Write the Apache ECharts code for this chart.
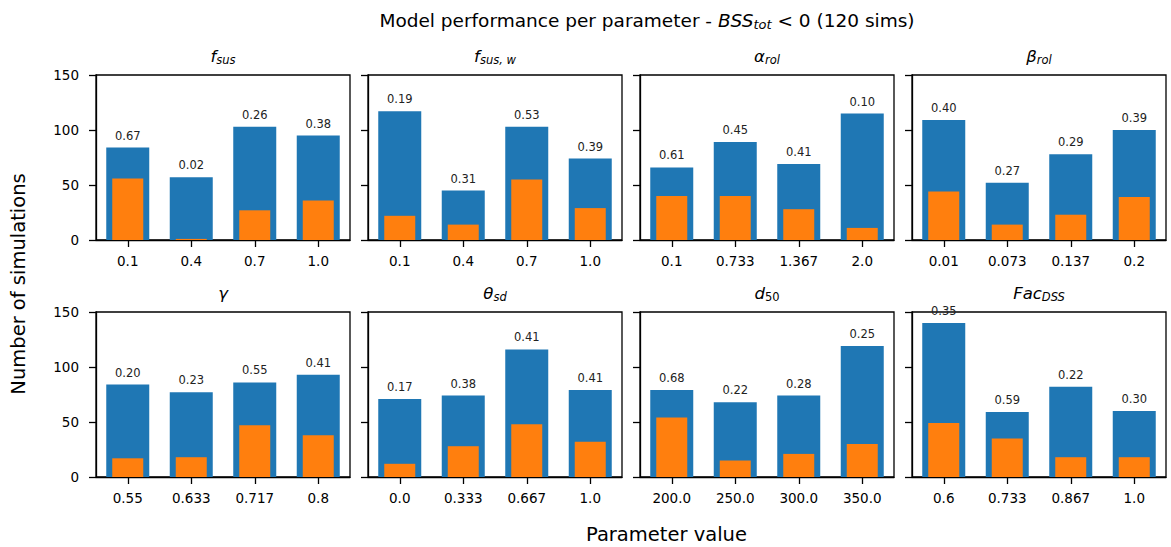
<!DOCTYPE html>
<html>
<head>
<meta charset="utf-8">
<script src="https://cdn.jsdelivr.net/npm/echarts@6/dist/echarts.min.js"></script>
<style>
html,body{margin:0;padding:0;background:#fff;}
#chart{width:1171px;height:547px;}
</style>
</head>
<body>
<div id="chart"></div>
<script>
// ---- data ----
const panelTitleMain = ['f', 'f', 'α', 'β', 'γ', 'θ', 'd', 'Fac'];
const panelTitleSub  = ['sus', 'sus, w', 'rol', 'rol', '', 'sd', '50', 'DSS'];
const tickLabels = [
  ['0.1', '0.4', '0.7', '1.0'],
  ['0.1', '0.4', '0.7', '1.0'],
  ['0.1', '0.733', '1.367', '2.0'],
  ['0.01', '0.073', '0.137', '0.2'],
  ['0.55', '0.633', '0.717', '0.8'],
  ['0.0', '0.333', '0.667', '1.0'],
  ['200.0', '250.0', '300.0', '350.0'],
  ['0.6', '0.733', '0.867', '1.0']
];
const totalSims = [
  [84, 57, 103, 95],
  [117, 45, 103, 74],
  [66, 89, 69, 115],
  [109, 52, 78, 100],
  [84, 77, 86, 93],
  [71, 74, 116, 79],
  [79, 68, 74, 119],
  [140, 59, 82, 60]
];
const negativeSims = [
  [56, 1, 27, 36],
  [22, 14, 55, 29],
  [40, 40, 28, 11],
  [44, 14, 23, 39],
  [17, 18, 47, 38],
  [12, 28, 48, 32],
  [54, 15, 21, 30],
  [49, 35, 18, 18]
];
const ratioLabels = [
  ['0.67', '0.02', '0.26', '0.38'],
  ['0.19', '0.31', '0.53', '0.39'],
  ['0.61', '0.45', '0.41', '0.10'],
  ['0.40', '0.27', '0.29', '0.39'],
  ['0.20', '0.23', '0.55', '0.41'],
  ['0.17', '0.38', '0.41', '0.41'],
  ['0.68', '0.22', '0.28', '0.25'],
  ['0.35', '0.59', '0.22', '0.30']
];
const yTicks = [0, 50, 100, 150];

// ---- layout ----
const FONT = 'DejaVu Sans';
const colLeft = [96, 368, 640, 912];
const rowTop = [75, 312];
const gridW = 254, gridH = 165;
const BLUE = '#1f77b4', ORANGE = '#ff7f0e';

const grids = [], xAxes = [], yAxes = [], series = [], graphics = [];

for (let p = 0; p < 8; p++) {
  const c = p % 4, r = Math.floor(p / 4);
  grids.push({
    left: colLeft[c], top: rowTop[r], width: gridW, height: gridH,
    show: true, borderColor: '#000', borderWidth: 1.3, backgroundColor: 'transparent',
    containLabel: false
  });
  const xCommon = {
    type: 'category', gridIndex: p, data: tickLabels[p],
    axisLine: { show: true, lineStyle: { color: '#000', width: 1.3 } },
    axisTick: { show: true, alignWithLabel: true, length: 7, lineStyle: { color: '#000', width: 1.3 } },
    axisLabel: { show: true, fontFamily: FONT, fontSize: 13.5, color: '#000', margin: 14 },
    splitLine: { show: false }
  };
  xAxes.push(xCommon);
  xAxes.push(Object.assign({}, xCommon, { show: false }));
  yAxes.push({
    type: 'value', gridIndex: p, min: yTicks[0], max: yTicks[yTicks.length - 1], interval: 50,
    axisLine: { show: true, lineStyle: { color: '#000', width: 1.3 } },
    axisTick: { show: true, length: 7, lineStyle: { color: '#000', width: 1.3 } },
    axisLabel: { show: c === 0, fontFamily: FONT, fontSize: 13.5, color: '#000', margin: 17 },
    splitLine: { show: false }
  });
  const labels = ratioLabels[p];
  series.push({
    type: 'bar', xAxisIndex: 2 * p, yAxisIndex: p, data: totalSims[p],
    barWidth: 43, itemStyle: { color: BLUE }, silent: true, animation: false,
    label: {
      show: true, position: 'top', distance: 6, fontFamily: FONT, fontSize: 11.5, color: '#222',
      formatter: (d) => labels[d.dataIndex]
    }
  });
  series.push({
    type: 'bar', xAxisIndex: 2 * p + 1, yAxisIndex: p, data: negativeSims[p],
    barWidth: 31, itemStyle: { color: ORANGE }, silent: true, animation: false
  });
  // subplot title
  const subIsDigit = /^[0-9]+$/.test(panelTitleSub[p]);
  const txt = panelTitleSub[p] ? '{m|' + panelTitleMain[p] + '}{' + (subIsDigit ? 'u' : 's') + '|' + panelTitleSub[p] + '}'
                               : '{m|' + panelTitleMain[p] + '}';
  graphics.push({
    type: 'text', x: colLeft[c] + gridW / 2, y: rowTop[r] - 19,
    style: {
      text: txt, align: 'center', verticalAlign: 'middle', fill: '#000',
      rich: {
        m: { fontFamily: FONT, fontSize: 16.5, fontStyle: 'italic', lineHeight: 20, verticalAlign: 'middle', fill: '#000' },
        s: { fontFamily: FONT, fontSize: 11.5, fontStyle: 'italic', lineHeight: 12, verticalAlign: 'bottom', fill: '#000' },
        u: { fontFamily: FONT, fontSize: 11.5, lineHeight: 12, verticalAlign: 'bottom', fill: '#000' }
      }
    }
  });
}

// figure-level texts
graphics.push({
  type: 'text', x: 647, y: 20,
  style: {
    text: '{n|Model performance per parameter - }{i|BSS}{s|tot}{n| < 0 (120 sims)}',
    align: 'center', verticalAlign: 'middle', fill: '#000',
    rich: {
      n: { fontFamily: FONT, fontSize: 18.5, lineHeight: 22, fill: '#000' },
      i: { fontFamily: FONT, fontSize: 18.5, fontStyle: 'italic', lineHeight: 22, fill: '#000' },
      s: { fontFamily: FONT, fontSize: 13, fontStyle: 'italic', lineHeight: 13, verticalAlign: 'bottom', fill: '#000' }
    }
  }
});
graphics.push({
  type: 'text', x: 586, y: 534,
  style: { text: 'Parameter value', align: 'left', verticalAlign: 'middle', fontFamily: FONT, fontSize: 19.5, fill: '#000' }
});
graphics.push({
  type: 'text', x: 18, y: 284, rotation: Math.PI / 2,
  style: { text: 'Number of simulations', align: 'center', verticalAlign: 'middle', fontFamily: FONT, fontSize: 19.5, fill: '#000' }
});

const chart = echarts.init(document.getElementById('chart'), null, { renderer: 'svg' });
chart.setOption({
  animation: false,
  backgroundColor: '#fff',
  grid: grids, xAxis: xAxes, yAxis: yAxes, series: series, graphic: graphics
});
</script>
</body>
</html>
